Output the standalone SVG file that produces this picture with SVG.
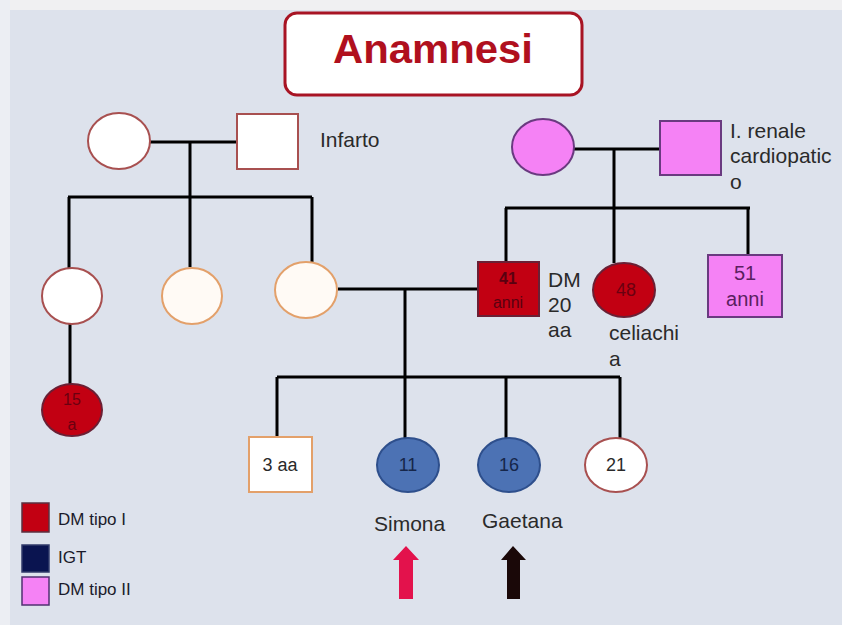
<svg xmlns="http://www.w3.org/2000/svg" width="842" height="625" viewBox="0 0 842 625">
<style>
.bg{fill:#dde2ec}
.ln{stroke:#000;stroke-width:3;fill:none}
.t{font-family:"Liberation Sans",Arial,sans-serif;font-size:21px;fill:#2a2a2a}
.n{font-family:"Liberation Sans",Arial,sans-serif;font-size:16px;text-anchor:middle}
.n18{font-size:18px}
.n20{font-size:20px}
.lg{font-family:"Liberation Sans",Arial,sans-serif;font-size:17px;fill:#1a1a2a}
.wr{fill:#fff;stroke:#a85050;stroke-width:2}
.wo{fill:#fffaf5;stroke:#e3a06a;stroke-width:2}
.red{fill:#c20012;stroke:#6a2035;stroke-width:2}
.pink{fill:#f582f5;stroke:#6a3a80;stroke-width:2}
.blue{fill:#4c72b4;stroke:#2e4f8c;stroke-width:2}
</style>
<rect class="bg" x="0" y="0" width="842" height="625"/>
<rect x="0" y="0" width="842" height="10" fill="#f0f0f2"/>
<rect x="0" y="0" width="10" height="625" fill="#eceef3"/>

<g id="title">
<rect x="285" y="13" width="297" height="82" rx="12" fill="#fff" stroke="#a81424" stroke-width="3"/>
<text x="433" y="63" text-anchor="middle" font-family="'Liberation Sans',Arial,sans-serif" font-weight="bold" font-size="40" fill="#b0101e" textLength="200" lengthAdjust="spacingAndGlyphs">Anamnesi</text>
</g>

<g id="connectors">
<path class="ln" d="M150 142 H237 M190 142 V197 M68 197 H312 M69 197 V268 M190 197 V267 M312 197 V262 M70 324 V385"/>
<path class="ln" d="M573 149 H660 M614 149 V208 M505 208 H750 M506 208 V262 M614 208 V263 M748 208 V255"/>
<path class="ln" d="M338 289 H478 M405 289 V377 M277 377 H620 M277 377 V437 M405 377 V438 M506 377 V438 M620 377 V438"/>
</g>

<g id="gp-left-f"><ellipse class="wr" cx="119" cy="141" rx="31" ry="28"/></g>
<g id="gp-left-m"><rect class="wr" x="237" y="114" width="61" height="55"/><text class="t" x="320" y="147">Infarto</text></g>

<g id="gp-right-f"><ellipse class="pink" cx="543" cy="147" rx="31" ry="28"/></g>
<g id="gp-right-m"><rect class="pink" x="660" y="121" width="61" height="54"/>
<text class="t" x="730" y="138">I. renale</text>
<text class="t" x="730" y="163">cardiopatic</text>
<text class="t" x="730" y="189">o</text></g>

<g id="aunt1"><ellipse class="wr" cx="72" cy="296" rx="30" ry="28"/></g>
<g id="aunt2"><ellipse class="wo" cx="192" cy="296" rx="30" ry="28"/></g>
<g id="mother"><ellipse class="wo" cx="306" cy="290" rx="31" ry="28"/></g>

<g id="cousin15"><ellipse class="red" cx="72" cy="410" rx="30" ry="26"/>
<text class="n" x="72" y="405" fill="#6a0010">15</text>
<text class="n" x="72" y="430" fill="#6a0010">a</text></g>

<g id="father"><rect class="red" x="478" y="262" width="61" height="54"/>
<text class="n" x="508" y="284" fill="#5a0010" font-weight="bold">41</text>
<text class="n" x="508" y="308" fill="#5a0010">anni</text>
<text class="t" x="548" y="287">DM</text>
<text class="t" x="548" y="312">20</text>
<text class="t" x="548" y="337">aa</text></g>

<g id="aunt48"><ellipse class="red" cx="624" cy="290" rx="31" ry="27"/>
<text class="n n18" x="626" y="296" fill="#6a0010">48</text>
<text class="t" x="609" y="340">celiachi</text>
<text class="t" x="609" y="366">a</text></g>

<g id="uncle51"><rect class="pink" x="708" y="255" width="74" height="62"/>
<text class="n n20" x="745" y="280" fill="#5a2060">51</text>
<text class="n n20" x="745" y="306" fill="#5a2060">anni</text></g>

<g id="child3"><rect class="wo" x="249" y="437" width="63" height="55" style="fill:#fff"/>
<text class="n n18" x="280" y="471" fill="#2a2a2a">3 aa</text></g>
<g id="simona"><ellipse class="blue" cx="408" cy="465" rx="31" ry="27"/>
<text class="n n18" x="408" y="471" fill="#16264a">11</text></g>
<g id="gaetana"><ellipse class="blue" cx="509" cy="465" rx="31" ry="27"/>
<text class="n n18" x="509" y="471" fill="#16264a">16</text></g>
<g id="child21"><ellipse class="wr" cx="616" cy="465" rx="31" ry="27"/>
<text class="n n18" x="616" y="471" fill="#2a2a2a">21</text></g>

<g id="labels">
<text class="t" x="374" y="531">Simona</text>
<text class="t" x="482" y="528">Gaetana</text>
<path d="M406 546 L419 560 H413 V599 H399 V560 H393 Z" fill="#e3124c"/>
<path d="M513 546 L526 560 H520 V599 H507 V560 H501 Z" fill="#1a0808"/>
</g>

<g id="legend">
<rect x="22" y="503" width="27" height="29" fill="#c20012" stroke="#5a3040" stroke-width="1.5"/>
<text class="lg" x="58" y="525">DM tipo I</text>
<rect x="22" y="545" width="27" height="27" fill="#0a1450" stroke="#303a6a" stroke-width="1.5"/>
<text class="lg" x="58" y="563">IGT</text>
<rect x="22" y="577" width="27" height="28" fill="#f582f5" stroke="#503070" stroke-width="1.5"/>
<text class="lg" x="58" y="595">DM tipo II</text>
</g>
</svg>
